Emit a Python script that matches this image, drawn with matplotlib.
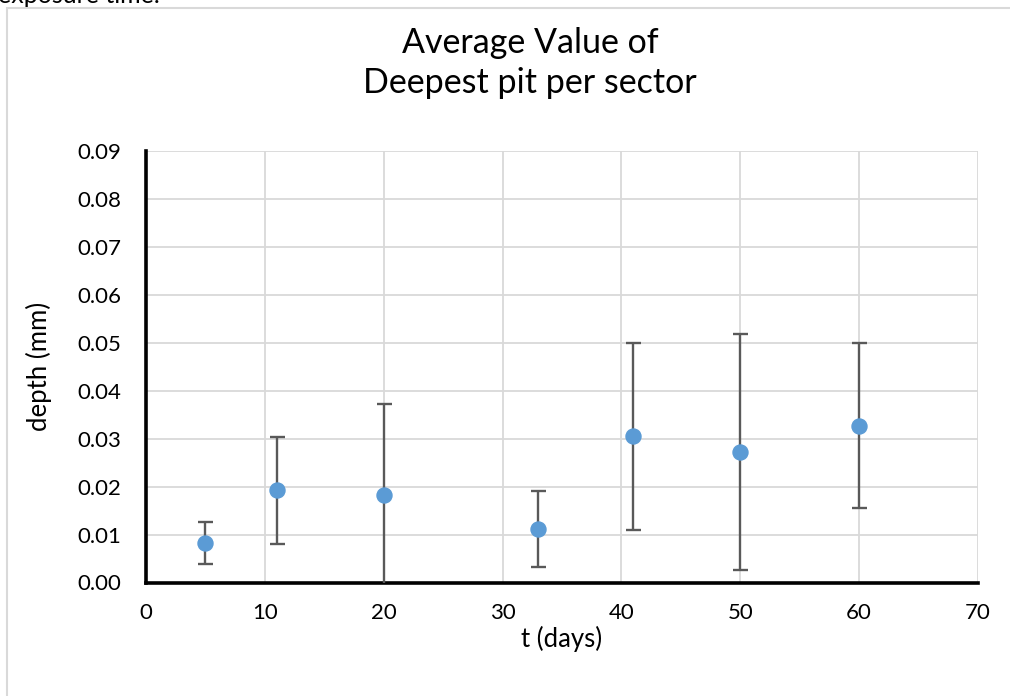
import numpy as np
import matplotlib.pyplot as plt
from matplotlib.patches import Rectangle

# data
days = [5, 11, 20, 33, 41, 50, 60]
depth = [0.0083, 0.0192, 0.0182, 0.0112, 0.0305, 0.0273, 0.0327]
err = [0.0044, 0.0112, 0.0191, 0.0079, 0.0195, 0.0246, 0.0172]
xticks = [0, 10, 20, 30, 40, 50, 60, 70]
yticks = [0.00, 0.01, 0.02, 0.03, 0.04, 0.05, 0.06, 0.07, 0.08, 0.09]

plt.rcParams['font.family'] = ['Lato', 'DejaVu Sans']

fig = plt.figure(figsize=(10.1, 6.96), dpi=100)
ax = fig.add_axes([146 / 1010, 1 - 582.5 / 696, (978 - 146) / 1010, (582.5 - 151) / 696])

# chart frame and the cut-off document text above it
fig.patches.append(Rectangle((7 / 1010, -0.05), 1.2, 1 - 8 / 696 + 0.05,
                             transform=fig.transFigure, fill=False,
                             edgecolor='#d9d9d9', lw=1.5))
fig.text(-0.002, 1 - 3 / 696, 'exposure time.', fontsize=18, va='baseline', ha='left')

ax.errorbar(days, depth, yerr=err, fmt='none', ecolor='#595959', elinewidth=1.7,
            capsize=5.4, capthick=1.7, zorder=3)
ax.plot(days, depth, 'o', color='#5b9bd5', markersize=10.8, zorder=4)

ax.set_xlim(0, 70)
ax.set_ylim(0, 0.09)
ax.set_xticks(xticks)
ax.set_yticks(yticks)
ax.set_yticklabels([f'{v:.2f}' for v in yticks])
ax.tick_params(length=0, labelsize=16)
ax.tick_params(axis='x', pad=15)
ax.tick_params(axis='y', pad=18)
ax.grid(True, color='#d9d9d9', lw=1.3)
ax.set_axisbelow(True)
for s in ['top', 'right']:
    ax.spines[s].set_visible(False)
for s in ['left', 'bottom']:
    ax.spines[s].set_linewidth(2.6)
    ax.spines[s].set_color('black')

ax.set_xlabel('t (days)', fontsize=18.5, labelpad=2)
ax.set_ylabel('depth (mm)', fontsize=18.5, labelpad=18)
fig.text(0.525, 1 - 53 / 696, 'Average Value of', fontsize=24.5, ha='center', va='baseline')
fig.text(0.525, 1 - 93 / 696, 'Deepest pit per sector', fontsize=24.5, ha='center', va='baseline')

fig.savefig('out.png', dpi=100)
